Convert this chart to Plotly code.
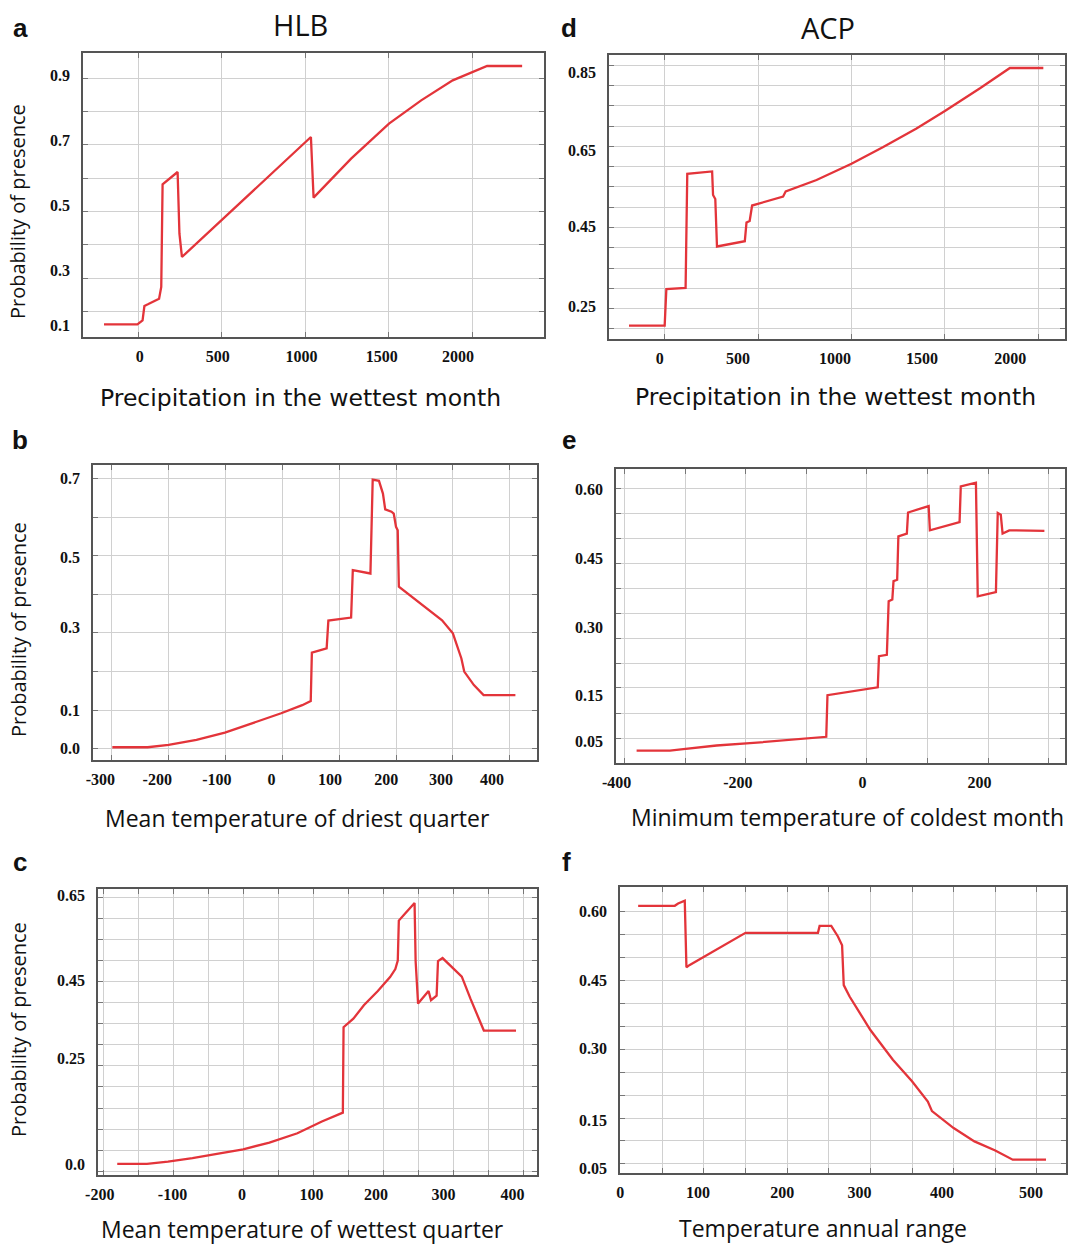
import plotly.graph_objects as go

W, H = 1068, 1244

# ---------------- data ----------------
# a: HLB - Precipitation in the wettest month
a_x = [-206, -6, 25, 36, 57, 124, 137, 145, 235, 246, 261, 1034, 1050, 1275, 1502, 1695, 1884, 2000, 2090, 2300]
a_y = [0.161, 0.161, 0.173, 0.216, 0.221, 0.238, 0.273, 0.581, 0.618, 0.433, 0.363, 0.723, 0.541, 0.658, 0.763, 0.833, 0.893, 0.918, 0.936, 0.936]
a_xgrid = [0, 500, 1000, 1500, 2000]
a_ygrid = [0.2, 0.3, 0.4, 0.5, 0.6, 0.7, 0.8, 0.9]
a_xtick_vals = [8, 475, 977, 1458, 1915]
a_xtick_text = ["0", "500", "1000", "1500", "2000"]
a_ytick_vals = [0.908, 0.713, 0.518, 0.323, 0.158]
a_ytick_text = ["0.9", "0.7", "0.5", "0.3", "0.1"]
a_xrange = [-332, 2431]
a_yrange = [0.123, 0.975]

# d: ACP - Precipitation in the wettest month
d_x = [-191, 0, 9, 112, 121, 254, 259, 271, 280, 429, 438, 455, 468, 634, 648, 813, 1000, 1170, 1348, 1500, 1688, 1848, 2027]
d_y = [0.208, 0.208, 0.298, 0.301, 0.582, 0.588, 0.530, 0.520, 0.403, 0.416, 0.462, 0.466, 0.504, 0.526, 0.539, 0.567, 0.607, 0.648, 0.694, 0.737, 0.793, 0.843, 0.843]
d_xgrid = [0, 500, 1000, 1500, 2000]
d_ygrid = [0.20, 0.25, 0.30, 0.35, 0.40, 0.45, 0.50, 0.55, 0.60, 0.65, 0.70, 0.75, 0.80, 0.85]
d_xtick_vals = [-27, 393, 912, 1378, 1850]
d_xtick_text = ["0", "500", "1000", "1500", "2000"]
d_ytick_vals = [0.832, 0.641, 0.452, 0.256]
d_ytick_text = ["0.85", "0.65", "0.45", "0.25"]
d_xrange = [-298, 2143]
d_yrange = [0.175, 0.875]

# b: HLB - Mean temperature of driest quarter
b_x = [-299, -237, -200, -151, -101, -52, -2, 35, 50, 52, 78, 81, 121, 124, 155, 159, 170, 177, 181, 192, 196, 200, 203, 205, 244, 281, 300, 315, 320, 337, 354, 410]
b_y = [0.004, 0.004, 0.010, 0.023, 0.042, 0.066, 0.092, 0.113, 0.124, 0.249, 0.260, 0.332, 0.340, 0.463, 0.454, 0.697, 0.694, 0.661, 0.620, 0.614, 0.609, 0.575, 0.566, 0.420, 0.376, 0.333, 0.299, 0.234, 0.200, 0.165, 0.139, 0.139]
b_xgrid = [-300, -200, -100, 0, 100, 200, 300, 400]
b_ygrid = [0.0, 0.1, 0.2, 0.3, 0.4, 0.5, 0.6, 0.7]
b_xtick_vals = [-320, -220, -115, -19, 84, 183, 279, 369]
b_xtick_text = ["-300", "-200", "-100", "0", "100", "200", "300", "400"]
b_ytick_vals = [0.70, 0.497, 0.315, 0.10, 0.0]
b_ytick_text = ["0.7", "0.5", "0.3", "0.1", "0.0"]
b_xrange = [-333, 448]
b_yrange = [-0.029, 0.735]

# e: ACP - Minimum temperature of coldest month
e_x = [-380, -325, -303, -248, -193, -138, -100, -67, -65, 18, 20, 33, 36, 42, 44, 50, 52, 66, 68, 102, 104, 153, 155, 180, 183, 213, 216, 221, 224, 235, 293]
e_y = [0.030, 0.030, 0.033, 0.041, 0.046, 0.052, 0.055, 0.060, 0.151, 0.168, 0.236, 0.239, 0.356, 0.360, 0.400, 0.403, 0.498, 0.504, 0.550, 0.564, 0.511, 0.529, 0.607, 0.615, 0.367, 0.376, 0.549, 0.545, 0.504, 0.511, 0.510]
e_xgrid = [-400, -300, -200, -100, 0, 100, 200, 300]
e_ygrid = [0.6015, 0.5476, 0.4929, 0.4383, 0.3837, 0.3291, 0.2744, 0.2198, 0.1667, 0.1120, 0.0574]
e_xtick_vals = [-413, -213, -7, 186]
e_xtick_text = ["-400", "-200", "0", "200"]
e_ytick_vals = [0.60, 0.45, 0.30, 0.15, 0.05]
e_ytick_text = ["0.60", "0.45", "0.30", "0.15", "0.05"]
e_xrange = [-414, 327]
e_yrange = [0.0028, 0.645]

# c: HLB - Mean temperature of wettest quarter
c_x = [-180, -137.5, -107.5, -72.5, -37.5, 0, 37.5, 77.5, 112.5, 142.5, 143.5, 157.5, 172.5, 192.5, 210, 217.5, 221, 222.5, 231.5, 245, 246.5, 250, 265, 268.5, 276.5, 278.5, 285, 312.5, 325, 344, 390]
c_y = [0.0175, 0.0175, 0.023, 0.031, 0.041, 0.052, 0.068, 0.090, 0.118, 0.139, 0.342, 0.362, 0.394, 0.428, 0.461, 0.480, 0.500, 0.595, 0.612, 0.637, 0.499, 0.398, 0.428, 0.406, 0.417, 0.499, 0.506, 0.462, 0.409, 0.334, 0.334]
c_xgrid = [-200, -150, -100, -50, 0, 50, 100, 150, 200, 250, 300, 350, 400]
c_ygrid = [0.0, 0.05, 0.10, 0.15, 0.20, 0.25, 0.30, 0.35, 0.40, 0.45, 0.50, 0.55, 0.60, 0.65]
c_xtick_vals = [-205, -101, -1.5, 97.5, 190, 286.5, 385]
c_xtick_text = ["-200", "-100", "0", "100", "200", "300", "400"]
c_ytick_vals = [0.656, 0.454, 0.267, 0.015]
c_ytick_text = ["0.65", "0.45", "0.25", "0.0"]
c_xrange = [-207.5, 420]
c_yrange = [-0.009, 0.670]

# f: ACP - Temperature annual range
f_x = [21, 65, 69, 77, 79, 83, 150, 237, 239, 253, 261, 266, 268, 275, 300, 327, 350, 369, 374, 400, 425, 450, 471, 511]
f_y = [0.613, 0.613, 0.618, 0.624, 0.479, 0.484, 0.554, 0.554, 0.569, 0.569, 0.546, 0.527, 0.440, 0.415, 0.342, 0.277, 0.230, 0.186, 0.165, 0.128, 0.099, 0.079, 0.059, 0.059]
f_xgrid = [50, 100, 150, 200, 250, 300, 350, 400, 450, 500]
f_ygrid = [0.05, 0.10, 0.15, 0.20, 0.25, 0.30, 0.35, 0.40, 0.45, 0.50, 0.55, 0.60]
f_xtick_vals = [-0.5, 93, 194, 287, 386, 493]
f_xtick_text = ["0", "100", "200", "300", "400", "500"]
f_ytick_vals = [0.60, 0.45, 0.301, 0.145, 0.041]
f_ytick_text = ["0.60", "0.45", "0.30", "0.15", "0.05"]
f_xrange = [-0.8, 535]
f_yrange = [0.030, 0.654]

x_titles = {
    "a": "Precipitation in the wettest month",
    "d": "Precipitation in the wettest month",
    "b": "Mean temperature of driest quarter",
    "e": "Minimum temperature of coldest month",
    "c": "Mean temperature of wettest quarter",
    "f": "Temperature annual range",
}
column_titles = ["HLB", "ACP"]
y_title = "Probability of presence"

# ---------------- layout geometry (pixels) ----------------
# plot boxes: left, top, right, bottom
boxes = {
    "a": (83, 53, 544, 337),
    "d": (609, 55, 1065, 339),
    "b": (93, 465, 537, 760),
    "e": (616, 469, 1065, 763),
    "c": (98, 889, 537, 1175),
    "f": (620, 887, 1066, 1173),
}
letter_pos = {"a": (20, 28), "d": (569, 28), "b": (20, 440), "e": (569, 440), "c": (20, 862), "f": (566, 862)}
xtitle_pos = {"a": (300, 398), "d": (835, 397), "b": (297, 818), "e": (847, 817), "c": (302, 1229), "f": (823, 1228)}
xtitle_font = {
    "a": ("DejaVu Sans", 23.5), "d": ("DejaVu Sans", 23.5),
    "b": ("Open Sans", 23), "e": ("Open Sans", 23),
    "c": ("Open Sans", 23), "f": ("Open Sans", 23),
}
ytitle_pos = {"a": (18, 212), "b": (18, 630), "c": (18, 1030)}
coltitle_pos = [(300, 25), (828, 28)]

panels = [
    ("a", a_x, a_y, a_xgrid, a_ygrid, a_xtick_vals, a_xtick_text, a_ytick_vals, a_ytick_text, a_xrange, a_yrange),
    ("d", d_x, d_y, d_xgrid, d_ygrid, d_xtick_vals, d_xtick_text, d_ytick_vals, d_ytick_text, d_xrange, d_yrange),
    ("b", b_x, b_y, b_xgrid, b_ygrid, b_xtick_vals, b_xtick_text, b_ytick_vals, b_ytick_text, b_xrange, b_yrange),
    ("e", e_x, e_y, e_xgrid, e_ygrid, e_xtick_vals, e_xtick_text, e_ytick_vals, e_ytick_text, e_xrange, e_yrange),
    ("c", c_x, c_y, c_xgrid, c_ygrid, c_xtick_vals, c_xtick_text, c_ytick_vals, c_ytick_text, c_xrange, c_yrange),
    ("f", f_x, f_y, f_xgrid, f_ygrid, f_xtick_vals, f_xtick_text, f_ytick_vals, f_ytick_text, f_xrange, f_yrange),
]

LINE_RED = "#e3343a"
GRID = "#d0d0d0"
BORDER = "#555555"
TICKFONT = dict(family="Liberation Serif", size=16, color="#111111", weight="bold")

fig = go.Figure()
layout = dict(
    width=W, height=H, margin=dict(l=0, r=0, t=0, b=0, autoexpand=False),
    paper_bgcolor="white", plot_bgcolor="white",
    showlegend=False, hovermode=False,
)
annotations = []

n = len(panels)
for i, (key, xs, ys, xg, yg, xtv, xtt, ytv, ytt, xr, yr) in enumerate(panels, start=1):
    l, t, r, b = boxes[key]
    xdom = [l / W, r / W]
    ydom = [1 - b / H, 1 - t / H]
    xi, yi = f"x{i}", f"y{i}"
    ox, oy = f"x{i + n}", f"y{i + n}"

    layout[f"xaxis{i}"] = dict(
        domain=xdom, anchor=yi, range=xr, tickmode="array", tickvals=xg,
        showticklabels=False, ticks="inside", ticklen=5, tickcolor="#777777",
        showgrid=True, gridcolor=GRID, gridwidth=1, zeroline=False,
        showline=True, linecolor=BORDER, linewidth=1.6, mirror="ticks",
        automargin=False,
    )
    layout[f"yaxis{i}"] = dict(
        domain=ydom, anchor=xi, range=yr, tickmode="array", tickvals=yg,
        showticklabels=False, ticks="inside", ticklen=5, tickcolor="#777777",
        showgrid=True, gridcolor=GRID, gridwidth=1, zeroline=False,
        showline=True, linecolor=BORDER, linewidth=1.6, mirror="ticks",
        automargin=False,
    )
    # label axes (tick labels as printed in the figure)
    layout[f"xaxis{i + n}"] = dict(
        overlaying=xi, anchor=yi, side="bottom", range=xr, tickmode="array",
        tickvals=xtv, ticktext=xtt, tickfont=TICKFONT, ticks="",
        showgrid=False, zeroline=False, showline=False, ticklabelstandoff=8,
        automargin=False,
    )
    layout[f"yaxis{i + n}"] = dict(
        overlaying=yi, anchor=xi, side="left", range=yr, tickmode="array",
        tickvals=ytv, ticktext=ytt, tickfont=TICKFONT, ticks="",
        showgrid=False, zeroline=False, showline=False, ticklabelstandoff=12,
        automargin=False,
    )

    fig.add_trace(go.Scatter(x=xs, y=ys, mode="lines", xaxis=xi, yaxis=yi,
                             line=dict(color=LINE_RED, width=2.3), hoverinfo="skip"))
    fig.add_trace(go.Scatter(x=[None], y=[None], mode="lines", xaxis=ox, yaxis=yi, hoverinfo="skip"))
    fig.add_trace(go.Scatter(x=[None], y=[None], mode="lines", xaxis=xi, yaxis=oy, hoverinfo="skip"))

    # panel letter
    lx, ly = letter_pos[key]
    annotations.append(dict(text=key, x=lx / W, y=1 - ly / H, xref="paper", yref="paper",
                            showarrow=False, xanchor="center", yanchor="middle",
                            font=dict(family="Liberation Sans", size=26, color="#111111", weight="bold")))
    # x title
    tx, ty = xtitle_pos[key]
    fam, fsz = xtitle_font[key]
    annotations.append(dict(text=x_titles[key], x=tx / W, y=1 - ty / H, xref="paper", yref="paper",
                            showarrow=False, xanchor="center", yanchor="middle",
                            font=dict(family=fam, size=fsz, color="#111111")))
    if key in ytitle_pos:
        yx, yy = ytitle_pos[key]
        annotations.append(dict(text=y_title, x=yx / W, y=1 - yy / H, xref="paper", yref="paper",
                                showarrow=False, xanchor="center", yanchor="middle", textangle=-90,
                                font=dict(family="Open Sans", size=20, color="#111111")))

for txt, (cx, cy) in zip(column_titles, coltitle_pos):
    annotations.append(dict(text=txt, x=cx / W, y=1 - cy / H, xref="paper", yref="paper",
                            showarrow=False, xanchor="center", yanchor="middle",
                            font=dict(family="Open Sans", size=29, color="#111111")))

layout["annotations"] = annotations
fig.update_layout(**layout)
fig.write_html(
    "out.html",
    config={"displayModeBar": False, "responsive": False},
    post_script="document.body.style.margin='0';document.body.style.padding='0';"
                "document.body.style.overflow='hidden';",
)
